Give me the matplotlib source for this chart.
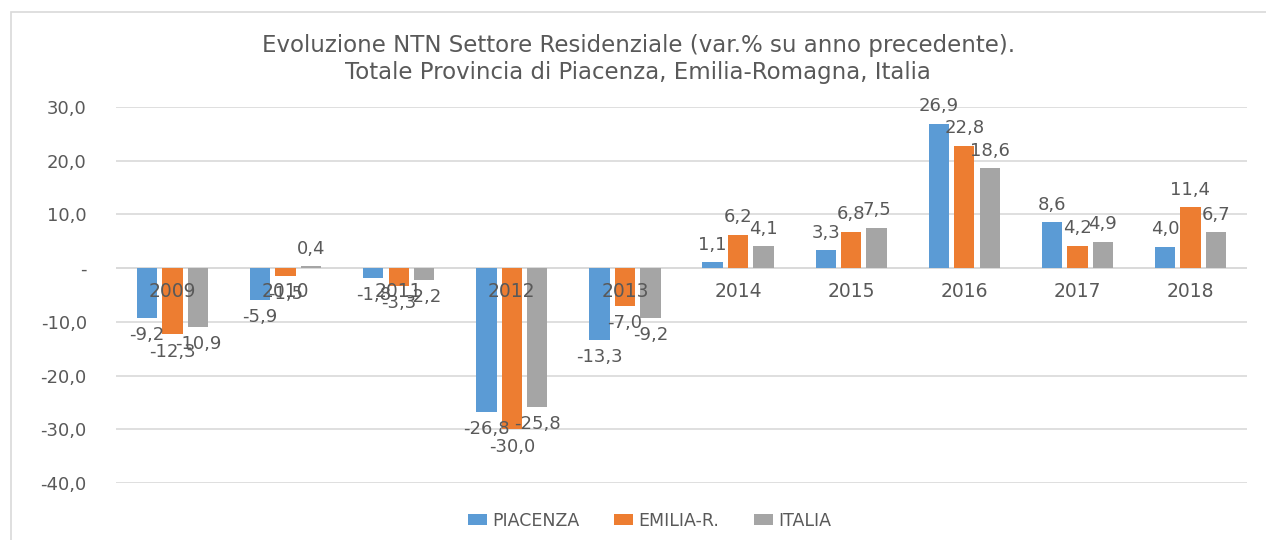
import numpy as np
import matplotlib
matplotlib.use('Agg')
import matplotlib.pyplot as plt
from matplotlib.patches import Rectangle

years = ['2009', '2010', '2011', '2012', '2013', '2014', '2015', '2016', '2017', '2018']
piacenza = [-9.2, -5.9, -1.8, -26.8, -13.3, 1.1, 3.3, 26.9, 8.6, 4.0]
emilia = [-12.3, -1.5, -3.3, -30.0, -7.0, 6.2, 6.8, 22.8, 4.2, 11.4]
italia = [-10.9, 0.4, -2.2, -25.8, -9.2, 4.1, 7.5, 18.6, 4.9, 6.7]
series_names = ['PIACENZA', 'EMILIA-R.', 'ITALIA']
colors = ['#5B9BD5', '#ED7D31', '#A5A5A5']

txt = '#595959'
plt.rcParams['font.family'] = ['DejaVu Sans']

fig = plt.figure(figsize=(12.66, 5.4), dpi=100)
ax = fig.add_axes([0.0916, 0.1056, 0.8934, 0.6963])

# chart border (only top/left visible in the original crop)
fig.patches.append(Rectangle((11 / 1266, -0.1), 1.2, 1 - 12 / 540 + 0.1,
                             transform=fig.transFigure, fill=False,
                             edgecolor='#d9d9d9', lw=1.2))

x = np.arange(len(years))
w = 0.18
step = 0.225
for i, (vals, name, c) in enumerate(zip([piacenza, emilia, italia], series_names, colors)):
    bars = ax.bar(x + (i - 1) * step, vals, w, color=c, label=name, zorder=3)
    ax.bar_label(bars, labels=[f'{v:.1f}'.replace('.', ',') for v in vals],
                 padding=6, fontsize=13, color=txt, zorder=4)

ax.set_xlim(-0.5, 9.5)
ax.set_ylim(-40, 30)
ax.set_yticks(np.arange(-40, 31, 10))
ax.set_yticklabels(['-' if v == 0 else f'{v:.1f}'.replace('.', ',') for v in np.arange(-40, 31, 10)])
ax.tick_params(axis='y', length=0, pad=21, labelsize=13, labelcolor=txt)
ax.set_xticks([])
# category labels sit on the zero line, as in Excel
for xi, y in zip(x, years):
    ax.text(xi, -2.6, y, ha='center', va='top', fontsize=13.5, color=txt, zorder=5)

ax.grid(axis='y', color='#d9d9d9', lw=1.2, zorder=0)
ax.axhline(0, color='#d9d9d9', lw=1.2, zorder=1)
for s in ax.spines.values():
    s.set_visible(False)

fig.text(0.504, 0.915, 'Evoluzione NTN Settore Residenziale (var.% su anno precedente).',
         ha='center', va='center', fontsize=16.5, color=txt)
fig.text(0.504, 0.865, 'Totale Provincia di Piacenza, Emilia-Romagna, Italia',
         ha='center', va='center', fontsize=16.5, color=txt)

leg = fig.legend(loc='center', bbox_to_anchor=(0.513, 0.036), ncol=3, frameon=False,
                 fontsize=12.5, handlelength=1.1, handleheight=0.55, handletextpad=0.3,
                 columnspacing=2.0)
for t in leg.get_texts():
    t.set_color(txt)

fig.savefig('out.png', dpi=100)
